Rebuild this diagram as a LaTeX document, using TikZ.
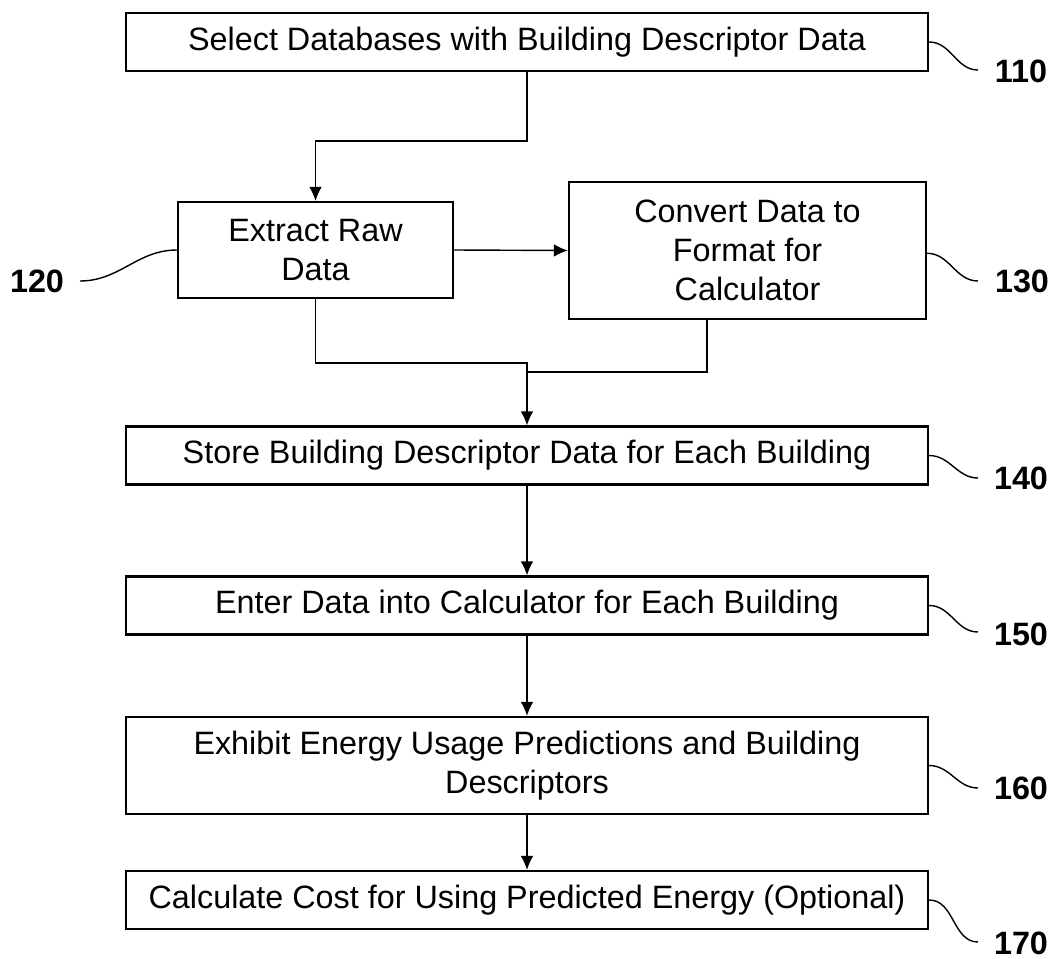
\documentclass[tikz,border=0pt]{standalone}
\usepackage{fontspec}
\setmainfont{Liberation Sans}
\usetikzlibrary{arrows.meta}

\begin{document}
\begin{tikzpicture}[x=0.025cm,y=-0.025cm,
    stepbox/.style={draw,line width=1.5pt,align=center,inner sep=0pt,
        font=\fontsize{23}{27.5}\selectfont},
    widebox/.style={stepbox,minimum width=20.05cm,minimum height=1.45cm},
    refnum/.style={font=\fontsize{23}{27.5}\selectfont\bfseries,inner sep=0pt},
    lead/.style={line width=1pt},
    flow/.style={line width=1pt,-{Latex[length=10pt,width=9pt]}}]
    \useasboundingbox (0,0) rectangle (1052,959);
    % boxes
    \node[widebox] (n110) at (527,42) {Select Databases with Building Descriptor Data};
    \node[stepbox,minimum width=6.875cm,minimum height=2.4cm] (n120) at (315.5,250)
        {Extract Raw\\Data};
    \node[stepbox,minimum width=8.925cm,minimum height=3.425cm] (n130) at (747.5,250.5)
        {Convert Data to\\Format for\\Calculator};
    \node[widebox] (n140) at (527,455.5) {Store Building Descriptor Data for Each Building};
    \node[widebox] (n150) at (527,605.5) {Enter Data into Calculator for Each Building};
    \node[widebox,minimum height=2.425cm] (n160) at (527,765.5)
        {Exhibit Energy Usage Predictions and Building\\Descriptors};
    \node[widebox] (n170) at (527,900) {Calculate Cost for Using Predicted Energy (Optional)};
    % reference numerals
    \node[refnum] (t110) at (1021,71) {110};
    \node[refnum] (t120) at (37,281) {120};
    \node[refnum] (t130) at (1022,281) {130};
    \node[refnum] (t140) at (1021,478) {140};
    \node[refnum] (t150) at (1021,634) {150};
    \node[refnum] (t160) at (1021,788) {160};
    \node[refnum] (t170) at (1021,943) {170};
    \coordinate (c110) at (978,70);
    \coordinate (c120) at (80,281);
    \coordinate (c130) at (978,281);
    \coordinate (c140) at (978,478);
    \coordinate (c150) at (978,632);
    \coordinate (c160) at (978,788);
    \coordinate (c170) at (978,942);
    \draw[lead] (n110.east) to[out=0,in=180] (c110);
    \draw[lead] (n120.west) to[out=180,in=0] (c120);
    \draw[lead] ([yshift=-0.07cm]n130.east) to[out=0,in=180] (c130);
    \draw[lead] (n140.east) to[out=0,in=180] (c140);
    \draw[lead] (n150.east) to[out=0,in=180] (c150);
    \draw[lead] (n160.east) to[out=0,in=180] (c160);
    \draw[lead] (n170.east) to[out=0,in=180] (c170);
    % flow
    \coordinate (m) at (527,372);
    \draw[flow] (n110.south) -- ++(0,69) -| (n120.north);
    \draw[flow] (n120.east) -- (n130.west);
    \draw[flow] (n120.south) -- ++(0,64) -| (n140.north);
    \draw[lead] ([xshift=-1.01cm]n130.south) |- (m);
    \draw[flow] (n140.south) -- (n150.north);
    \draw[flow] (n150.south) -- (n160.north);
    \draw[flow] (n160.south) -- (n170.north);
\end{tikzpicture}
\end{document}
